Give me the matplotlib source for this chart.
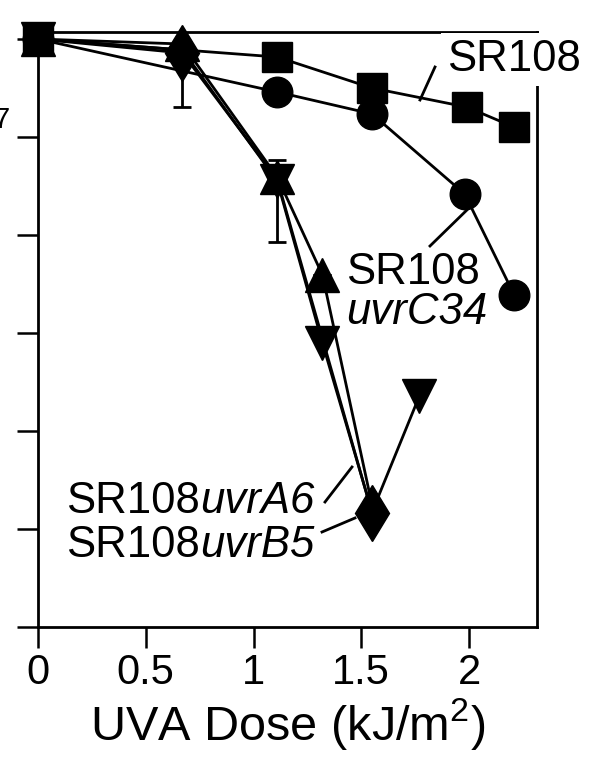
import matplotlib
matplotlib.use("Agg")
import matplotlib.pyplot as plt
from matplotlib.lines import Line2D
import numpy as np

plt.rcParams['font.family'] = ['Liberation Sans', 'DejaVu Sans']
plt.rcParams['mathtext.fontset'] = 'custom'
plt.rcParams['mathtext.rm'] = 'Liberation Sans'
plt.rcParams['mathtext.it'] = 'Liberation Sans:italic'
plt.rcParams['mathtext.default'] = 'regular'

# ---- data (UVA dose kJ/m2, surviving fraction) ----
sr108_dose = [0, 1.11, 1.55, 1.99, 2.21]
sr108_surv = [1.0, 0.655, 0.316, 0.202, 0.126]

uvrC34_dose = [0, 1.11, 1.55, 1.98, 2.21]
uvrC34_surv = [1.0, 0.288, 0.172, 0.0262, 0.00244]

triup_dose = [0, 0.67, 1.11, 1.32, 1.55]
triup_surv = [1.0, 0.889, 0.0391, 0.00391, 1.76e-5]
triup_lo = [1.0, 0.889, 0.00849, 0.00391, 1.76e-5]
triup_hi = [1.0, 0.889, 0.0582, 0.00391, 1.76e-5]

tridn_dose = [0, 0.67, 1.11, 1.32, 1.55, 1.77]
tridn_surv = [1.0, 0.773, 0.0356, 7.9e-4, 1.49e-5, 2.28e-4]

diam_dose = [0, 0.67, 1.11, 1.55]
diam_surv = [1.0, 0.72, 0.037, 1.46e-5]
diam_lo = [1.0, 0.202, 0.037, 1.46e-5]
diam_hi = [1.0, 0.72, 0.037, 1.46e-5]

xticks = [0, 0.5, 1, 1.5, 2]
xticklabels = ['0', '0.5', '1', '1.5', '2']

W, H = 599, 757
fig = plt.figure(figsize=(W / 100, H / 100), dpi=100)
L, R, T, B = 38, 537, 32, 627
ax = fig.add_axes([L / W, 1 - B / H, (R - L) / W, (B - T) / H])

lw = 2.0
common = dict(color='black', lw=lw, markeredgecolor='black', markerfacecolor='black',
              markeredgewidth=1, clip_on=False, zorder=3)

ax.plot(sr108_dose, sr108_surv, marker='s', ms=21, **common)
ax.plot(uvrC34_dose, uvrC34_surv, marker='o', ms=22, **common)
ax.plot(tridn_dose, tridn_surv, marker='v', ms=24, markevery=[0, 2, 3, 5], **common)
ax.plot(triup_dose, triup_surv, marker='^', ms=24, markevery=[0, 1, 2, 3], **common)
ax.plot(diam_dose, diam_surv, marker='d', ms=29, markevery=[1, 3], **common)

def errs(c, lo, hi):
    c = np.array(c); lo = np.array(lo); hi = np.array(hi)
    return np.vstack([c - lo, hi - c])

eb_kw = dict(fmt='none', ecolor='black', elinewidth=2.0, capsize=6.5, capthick=2.0, zorder=2)
ax.errorbar(diam_dose, diam_surv, yerr=errs(diam_surv, diam_lo, diam_hi), **eb_kw)
ax.errorbar(triup_dose, triup_surv, yerr=errs(triup_surv, triup_lo, triup_hi), **eb_kw)

ax.set_yscale('log')
ax.set_ylim(1e-6, 10 ** ((39 - 32) / 98))
ax.set_xlim(0, (R - L) / 215.5)
ax.set_yticks([10.0 ** -k for k in range(7)])
ax.set_yticklabels([''] * 7)
ax.yaxis.set_minor_locator(matplotlib.ticker.NullLocator())
ax.set_xticks(xticks)
ax.set_xticklabels(xticklabels)

for s in ax.spines.values():
    s.set_linewidth(2.0)
ax.tick_params(axis='both', which='major', direction='out', length=15, width=1.8,
               labelsize=30, pad=4)
ax.set_xlabel('UVA Dose (kJ/m$^{2}$)', fontsize=35, labelpad=2)

def fx(px):
    return px / W

def fy(py):
    return 1 - py / H

fs = 31.5
renderer = fig.canvas.get_renderer()

def mixed(px, py, upright, italic, **kw):
    t1 = fig.text(fx(px), fy(py), upright, fontsize=fs, ha='left', va='baseline', **kw)
    x = px
    if upright:
        bb = t1.get_window_extent(renderer)
        x = bb.x1
    else:
        x = px
    if italic:
        fig.text(x / W if upright else fx(px), fy(py), italic, fontsize=fs, ha='left',
                 va='baseline', fontstyle='italic')

fig.text(fx(447), fy(71), 'SR108', fontsize=fs, ha='left', va='baseline',
         bbox=dict(facecolor='white', edgecolor='none', pad=4), zorder=5)
fig.text(fx(346), fy(284), 'SR108', fontsize=fs, ha='left', va='baseline')
fig.text(fx(346), fy(324), 'uvrC34', fontsize=fs, ha='left', va='baseline', fontstyle='italic')
mixed(66, 513, 'SR108', 'uvrA6')
mixed(66, 557, 'SR108', 'uvrB5')
fig.text(fx(10), fy(128), '7', fontsize=21, ha='right', va='baseline')

leaders = [((435, 67), (420, 100)),
           ((430, 246), (470, 207)),
           ((325, 502), (352, 467)),
           ((322, 532), (355, 518))]
for (x0, y0), (x1, y1) in leaders:
    fig.add_artist(Line2D([fx(x0), fx(x1)], [fy(y0), fy(y1)], color='black', lw=2.0,
                          transform=fig.transFigure))

fig.savefig('out.png', dpi=100)
